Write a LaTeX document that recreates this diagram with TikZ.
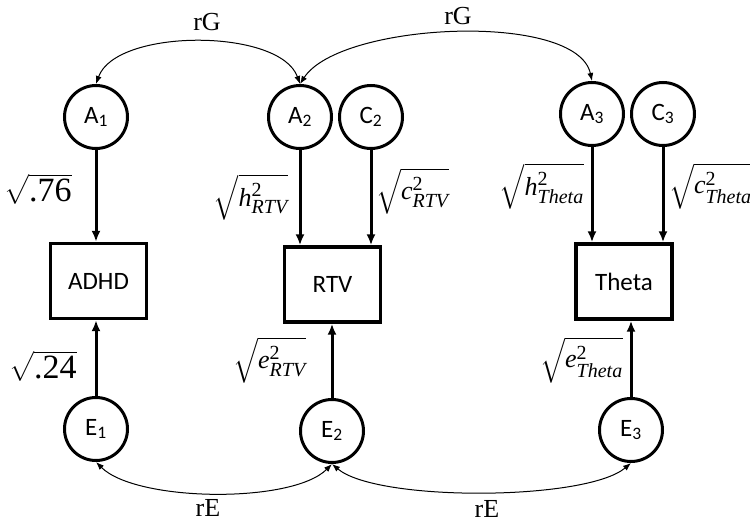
\documentclass[tikz,border=0pt]{standalone}
\usepackage{amsmath}
\usepackage{exscale}
\usepackage{fontspec}
\setmainfont{Liberation Serif}
\newfontfamily\sanf{Carlito}
\usetikzlibrary{arrows.meta}
\DeclareMathSizes{26}{26}{20}{15}
\DeclareMathSizes{34}{34}{24}{17}
\begin{document}
\begin{tikzpicture}[x=1pt,y=1pt,
  lat/.style={circle, draw, line width=3pt, minimum size=63pt, inner sep=0pt, font=\sanf\fontsize{25}{27}\selectfont},
  obs/.style={rectangle, draw, line width=3.4pt, minimum width=96pt, minimum height=75pt, inner sep=0pt, font=\sanf\fontsize{25}{27}\selectfont},
  pth/.style={line width=3pt, -{Latex[length=11pt,width=9pt]}},
  cov/.style={line width=1pt, {Latex[length=8pt,width=6pt]}-{Latex[length=8pt,width=6pt]}},
  lab/.style={font=\fontsize{26}{30}\selectfont, inner sep=0pt},
  biglab/.style={font=\fontsize{34}{38}\selectfont, inner sep=0pt},
  rlab/.style={font=\fontsize{26}{28}\selectfont, inner sep=0pt}]
\useasboundingbox (0,0) rectangle (750,524);
% latent factors
\node[lat] (A1) at (96,407) {A\textsubscript{1}};
\node[lat] (A2) at (300,407) {A\textsubscript{2}};
\node[lat] (C2) at (371,407) {C\textsubscript{2}};
\node[lat] (A3) at (592,410) {A\textsubscript{3}};
\node[lat] (C3) at (663,410) {C\textsubscript{3}};
\node[lat] (E1) at (96,95) {E\textsubscript{1}};
\node[lat] (E2) at (332,93) {E\textsubscript{2}};
\node[lat] (E3) at (631,94) {E\textsubscript{3}};
% observed
\node[obs] (ADHD) at (98.5,243) {ADHD};
\node[obs] (RTV) at (332.5,239.5) {RTV};
\node[obs] (Theta) at (624,242.5) {Theta};
% paths
\draw[pth] (A1) -- (A1 |- ADHD.north);
\draw[pth] (E1) -- (E1 |- ADHD.south);
\draw[pth] (A2) -- (A2 |- RTV.north);
\draw[pth] (C2) -- (C2 |- RTV.north);
\draw[pth] (E2) -- (E2 |- RTV.south);
\draw[pth] (A3) -- (A3 |- Theta.north);
\draw[pth] (C3) -- (C3 |- Theta.north);
\draw[pth] (E3) -- (E3 |- Theta.south);
% covariances
\draw[cov] (A1.north) .. controls +(20,56) and +(-20,56) .. (A2.north);
\draw[cov] (A2.north) .. controls +(40,62) and +(-15,70) .. (A3.north);
\draw[cov] (E1.south) .. controls +(40,-40) and +(-40,-40) .. (E2.south);
\draw[cov] (E2.south) .. controls +(45,-38) and +(-45,-38) .. (E3.south);
% labels
\node[rlab] (g1) at (207,502) {rG};
\node[rlab] (g2) at (458,508) {rG};
\node[rlab] (e1) at (208,16) {rE};
\node[rlab] (e2) at (487,15) {rE};
\node[biglab, anchor=west] (l1) at (4,335) {$\sqrt{\text{.76}}$};
\node[biglab, anchor=west] (l2) at (9,158) {$\sqrt{\text{.24}}$};
\node[lab, anchor=east] (l3) at (288,327) {$\sqrt{\textit{h}^{\text{2}}_{\textit{RTV}}}$};
\node[lab, anchor=west] (l4) at (376,333) {$\sqrt{\textit{c}^{\text{2}}_{\textit{RTV}}}$};
\node[lab, anchor=east] (l5) at (584,338) {$\sqrt{\textit{h}^{\text{2}}_{\textit{Theta}}}$};
\node[lab, anchor=west] (l6) at (669,338) {$\sqrt{\textit{c}^{\text{2}}_{\textit{Theta}}}$};
\node[lab, anchor=east] (l7) at (306,164) {$\sqrt{\textit{e}^{\text{2}}_{\textit{RTV}}}$};
\node[lab, anchor=east] (l8) at (623,164) {$\sqrt{\textit{e}^{\text{2}}_{\textit{Theta}}}$};
\end{tikzpicture}
\end{document}
